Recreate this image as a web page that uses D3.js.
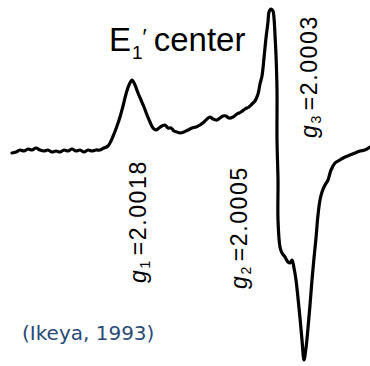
<!DOCTYPE html>
<html>
<head>
<meta charset="utf-8">
<script src="https://cdn.jsdelivr.net/npm/d3@7"></script>
<style>
  html, body { margin: 0; padding: 0; background: #fff; }
  svg { display: block; }
</style>
</head>
<body>
<div id="chart"></div>
<script>
// ESR spectrum, E'1 centre (Ikeya, 1993)
// field: arbitrary field units, signal: first-derivative amplitude (arb.)
var field = [0,4,8,12,16,20,24,28,32,36,40,44,48,52,56,60,64,68,72,76,80,84,88,92,96,99,102,105,108,111,114,117,120,123,126,129,132,135,138,141,144,147,150,153,156,159,162,165,168,172,176,180,184,188,192,195,198,201,205,208,211,214,217,221,225,229,233,237,240,243,246,248,250,252,254,256,257,259,261,262,263,264,265,265,266,266,268,270,273,276,278,280,282,284,286,288,290,292,294,296,298,300,302,304,306,308,310,313,316,319,323,328,333,338,343,348,353,358];
var signal = [-3,-2,0,-1,1,0,2,0,-1,0,-2,-1,-2,0,-1,1,-1,0,-2,0,-1,0,0,2,4,9,16,24,33,44,56,65,70,65,57,50,43,35,28,22,20,22,24,25,22,22,19,18,17,18,20,22,23,25,28,31,33,31,30,32,34,34,32,33,36,38,41,43,46,49,56,66,74,92,112,128,138,141,139,132,115,95,60,10,-30,-70,-97,-103,-107,-112,-113,-110,-118,-130,-148,-168,-190,-210,-198,-178,-155,-130,-108,-88,-65,-50,-42,-35,-30,-20,-13,-10,-7,-5,-3,-1,0,3];

var labels = [
  {sub: "1", value: "=2.0018"},
  {sub: "2", value: "=2.0005"},
  {sub: "3", value: "=2.0003"}
];
var labelField = [134, 235, 305];
var labelSignal = [-133, -139, 12];

var width = 370, height = 366;

var svg = d3.select("#chart").append("svg")
    .attr("width", width)
    .attr("height", height);

var x = d3.scaleLinear().domain([0, 358]).range([12, 370]);
var y = d3.scaleLinear().domain([-210, 141]).range([360, 9]);

var pts = field.map(function(f, i) { return [f, signal[i]]; });

var line = d3.line()
    .x(function(d) { return x(d[0]); })
    .y(function(d) { return y(d[1]); })
    .curve(d3.curveCatmullRom.alpha(0.5));

svg.append("path")
    .datum(pts)
    .attr("d", line)
    .attr("fill", "none")
    .attr("stroke", "#000")
    .attr("stroke-width", 3.2)
    .attr("stroke-linejoin", "round")
    .attr("stroke-linecap", "round");

// title E'1 center, one text element
var title = svg.append("text")
    .attr("x", 109)
    .attr("y", 51)
    .style("font-family", "'Liberation Sans', Arial, sans-serif")
    .style("font-size", "33px")
    .attr("fill", "#000");
title.append("tspan").text("E");
title.append("tspan").attr("dx", 1).attr("dy", 8).style("font-size", "19px").text("1");
title.append("tspan").attr("dx", 0).attr("dy", -15).style("font-size", "22px").text("\u2032");
title.append("tspan").attr("dx", 7).attr("dy", 7).text("center");

// rotated g-value labels
labels.forEach(function(l, i) {
  var px = x(labelField[i]), py = y(labelSignal[i]);
  var t = svg.append("text")
      .attr("transform", "translate(" + px + "," + py + ") rotate(-90)")
      .style("font-family", "'Liberation Sans', Arial, sans-serif")
      .style("font-size", "23px")
      .style("letter-spacing", "1.6px")
      .attr("fill", "#000");
  t.append("tspan").style("font-style", "italic").text("g");
  t.append("tspan").attr("dy", 4).style("font-size", "14px").text(l.sub);
  t.append("tspan").attr("dy", -4).attr("dx", 4).text(l.value);
});

svg.append("text")
    .attr("x", 22).attr("y", 340)
    .style("font-family", "'DejaVu Sans', Verdana, sans-serif")
    .style("font-size", "20px")
    .attr("fill", "#2a4a78")
    .text("(Ikeya, 1993)");
</script>
</body>
</html>
